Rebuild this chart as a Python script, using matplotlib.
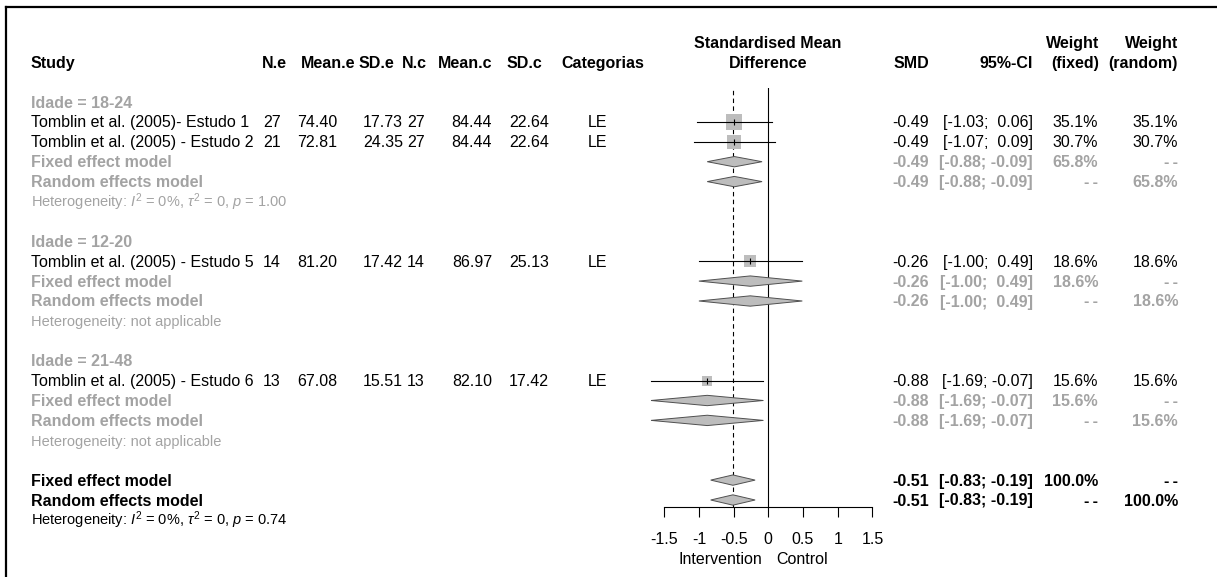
import numpy as np
import matplotlib
matplotlib.use("Agg")
import matplotlib.pyplot as plt
from matplotlib.patches import Polygon
from matplotlib.lines import Line2D

plt.rcParams['font.family'] = ['Liberation Sans', 'DejaVu Sans']
plt.rcParams['mathtext.fontset'] = 'custom'
plt.rcParams['mathtext.rm'] = 'Liberation Sans'
plt.rcParams['mathtext.it'] = 'Liberation Sans:italic'
plt.rcParams['mathtext.bf'] = 'Liberation Sans:bold'

# estudos individuais
studies = ["Tomblin et al. (2005)- Estudo 1", "Tomblin et al. (2005) - Estudo 2",
           "Tomblin et al. (2005) - Estudo 5", "Tomblin et al. (2005) - Estudo 6"]
n_e = [27, 21, 14, 13]
mean_e = [74.40, 72.81, 81.20, 67.08]
sd_e = [17.73, 24.35, 17.42, 15.51]
n_c = [27, 27, 14, 13]
mean_c = [84.44, 84.44, 86.97, 82.10]
sd_c = [22.64, 22.64, 25.13, 17.42]
categorias = ["LE", "LE", "LE", "LE"]
smd = [-0.49, -0.49, -0.26, -0.88]
ci_lo = [-1.03, -1.07, -1.00, -1.69]
ci_hi = [0.06, 0.09, 0.49, -0.07]
w_fixed = [35.1, 30.7, 18.6, 15.6]
w_random = [35.1, 30.7, 18.6, 15.6]

# subgrupos por idade
groups = ["Idade = 18-24", "Idade = 12-20", "Idade = 21-48"]
group_members = [[0, 1], [2], [3]]
group_smd = [-0.49, -0.26, -0.88]
group_lo = [-0.88, -1.00, -1.69]
group_hi = [-0.09, 0.49, -0.07]
group_weight = [65.8, 18.6, 15.6]
group_het = [r"Heterogeneity: $I^2$ = 0%, $\tau^2$ = 0, $p$ = 1.00",
             "Heterogeneity: not applicable",
             "Heterogeneity: not applicable"]

# modelo global
overall_smd = -0.51
overall_lo = -0.83
overall_hi = -0.19
overall_weight = 100.0
overall_het = r"Heterogeneity: $I^2$ = 0%, $\tau^2$ = 0, $p$ = 0.74"

xticks = [-1.5, -1, -0.5, 0, 0.5, 1, 1.5]
xticklabels = ["-1.5", "-1", "-0.5", "0", "0.5", "1", "1.5"]

W, H = 1217, 577
ROW0, DY = 102, 19.9
GRAY = '#a3a3a3'
FILL = '#bdbdbd'
FS = 11.5
NA = "-\u2009-"


def ypix(k):
    return ROW0 + DY * k


fig = plt.figure(figsize=(W / 100, H / 100), dpi=100)

# camada de texto em pixels
tx = fig.add_axes([0, 0, 1, 1])
tx.set_xlim(0, W)
tx.set_ylim(H, 0)
tx.axis('off')


def put(x, k, s, ha='left', color='black', weight='normal', size=FS):
    tx.text(x, ypix(k) + 5.5, s, ha=ha, va='baseline', color=color,
            fontweight=weight, fontsize=size)


# painel do forest plot
fx0, fx1 = 664.2, 872.4
fy_top, fy_bot = 88, 507
ax = fig.add_axes([fx0 / W, 1 - fy_bot / H, (fx1 - fx0) / W, (fy_bot - fy_top) / H])
ax.set_facecolor('none')
ax.set_xlim(-1.5, 1.5)
ax.set_ylim((fy_bot - ROW0) / DY, (fy_top - ROW0) / DY)
for side in ['left', 'right', 'top']:
    ax.spines[side].set_visible(False)
ax.spines['bottom'].set_linewidth(0.8)
ax.set_yticks([])
ax.set_xticks(xticks)
ax.set_xticklabels(xticklabels)
ax.tick_params(axis='x', direction='out', length=7, width=0.8, pad=11, labelsize=FS)

ax.axvline(0, color='black', lw=0.8, zorder=1)
ax.axvline(overall_smd, color='black', lw=0.8, ls=(0, (4, 3)), zorder=1)


def diamond(est, lo, hi, k, h=0.26):
    ax.add_patch(Polygon([(lo, k), (est, k - h), (hi, k), (est, k + h)], closed=True,
                         facecolor=FILL, edgecolor='#505050', lw=0.7, zorder=3,
                         clip_on=False))


def right_cols(k, est, lo, hi, wf, wr, color, weight):
    put(929, k, f"{est:.2f}", ha='right', color=color, weight=weight)
    put(1033, k, f"[{lo:5.2f}; {hi:5.2f}]", ha='right', color=color, weight=weight)
    put(1098, k, wf, ha='right', color=color, weight=weight)
    put(1178, k, wr, ha='right', color=color, weight=weight)


# cabeçalho
put(31, -2, "Study", weight='bold')
for x, lab in zip([287, 355, 394, 427, 492, 542], ["N.e", "Mean.e", "SD.e", "N.c", "Mean.c", "SD.c"]):
    put(x, -2, lab, ha='right', weight='bold')
put(561, -2, "Categorias", weight='bold')
put(768, -3, "Standardised Mean", ha='center', weight='bold')
put(768, -2, "Difference", ha='center', weight='bold')
put(929, -2, "SMD", ha='right', weight='bold')
put(1033, -2, "95%-CI", ha='right', weight='bold')
put(1099, -3, "Weight", ha='right', weight='bold')
put(1099, -2, "(fixed)", ha='right', weight='bold')
put(1178, -3, "Weight", ha='right', weight='bold')
put(1178, -2, "(random)", ha='right', weight='bold')

k = 0
for g, label in enumerate(groups):
    put(31, k, label, color=GRAY, weight='bold')
    k += 1
    for i in group_members[g]:
        put(31, k, studies[i])
        put(281, k, str(n_e[i]), ha='right')
        put(337, k, f"{mean_e[i]:.2f}", ha='right')
        put(403, k, f"{sd_e[i]:.2f}", ha='right')
        put(425, k, str(n_c[i]), ha='right')
        put(492, k, f"{mean_c[i]:.2f}", ha='right')
        put(549, k, f"{sd_c[i]:.2f}", ha='right')
        put(588, k, categorias[i])
        right_cols(k, smd[i], ci_lo[i], ci_hi[i], f"{w_fixed[i]:.1f}%", f"{w_random[i]:.1f}%",
                   'black', 'normal')
        ax.plot([ci_lo[i], ci_hi[i]], [k, k], color='black', lw=0.8, zorder=4, clip_on=False)
        side_pt = 2.65 * np.sqrt(w_fixed[i]) * 0.72
        ax.scatter([smd[i]], [k], marker='s', s=side_pt ** 2, color=FILL, lw=0, zorder=3)
        ax.plot([smd[i]], [k], marker='|', ms=4, mew=0.8, color='black', zorder=5)
        k += 1
    # efeito fixo e aleatório do subgrupo
    put(31, k, "Fixed effect model", color=GRAY, weight='bold')
    right_cols(k, group_smd[g], group_lo[g], group_hi[g], f"{group_weight[g]:.1f}%", NA,
               GRAY, 'bold')
    diamond(group_smd[g], group_lo[g], group_hi[g], k)
    k += 1
    put(31, k, "Random effects model", color=GRAY, weight='bold')
    right_cols(k, group_smd[g], group_lo[g], group_hi[g], NA, f"{group_weight[g]:.1f}%",
               GRAY, 'bold')
    diamond(group_smd[g], group_lo[g], group_hi[g], k)
    k += 1
    put(31, k, group_het[g], color=GRAY, size=10.5)
    k += 2

put(31, k, "Fixed effect model", weight='bold')
right_cols(k, overall_smd, overall_lo, overall_hi, f"{overall_weight:.1f}%", NA, 'black', 'bold')
diamond(overall_smd, overall_lo, overall_hi, k)
k += 1
put(31, k, "Random effects model", weight='bold')
right_cols(k, overall_smd, overall_lo, overall_hi, NA, f"{overall_weight:.1f}%", 'black', 'bold')
diamond(overall_smd, overall_lo, overall_hi, k)
k += 1
put(31, k, overall_het, size=10.5)

# rótulos abaixo do eixo
tx.text(720, 564, "Intervention", ha='center', va='baseline', fontsize=FS)
tx.text(802, 564, "Control", ha='center', va='baseline', fontsize=FS)

# moldura (esquerda e topo)
fig.add_artist(Line2D([6 / W, 6 / W], [0, 1 - 7 / H], color='black', lw=1.6))
fig.add_artist(Line2D([6 / W, 1], [1 - 7 / H, 1 - 7 / H], color='black', lw=1.6))

fig.savefig("out.png", dpi=100)
